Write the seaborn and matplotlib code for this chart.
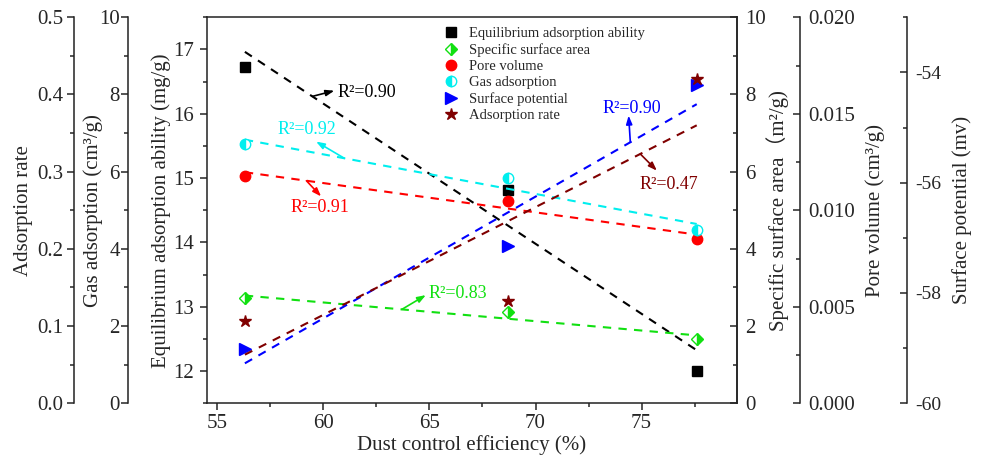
import numpy as np
import matplotlib
matplotlib.use('Agg')
import matplotlib.pyplot as plt
from matplotlib.ticker import MultipleLocator, FormatStrFormatter
import seaborn as sns

sns.set_style('ticks')
plt.rcParams['font.family'] = ['Liberation Serif', 'Noto Sans CJK SC']
plt.rcParams['axes.unicode_minus'] = False  # "-54" with a plain hyphen
plt.rcParams['axes.linewidth'] = 1.1
plt.rcParams['axes.edgecolor'] = '#222222'

# data
efficiency = [56.3, 68.7, 77.6]            # dust control efficiency (%)
equilibrium = [16.73, 14.82, 12.0]         # mg/g
surface_area = [2.72, 2.36, 1.66]          # m2/g
pore_volume = [0.0118, 0.0105, 0.0085]     # cm3/g
gas_adsorption = [6.71, 5.84, 4.48]        # cm3/g
surface_potential = [-59.02, -57.15, -54.22]  # mv
adsorption_rate = [0.106, 0.133, 0.420]

r2_labels = ['0.90', '0.83', '0.91', '0.92', '0.90', '0.47']

fig = plt.figure(figsize=(9.81, 4.61), dpi=100)
ax = fig.add_axes([0.2107, 0.1252, 0.5406, 0.8373])

ax_area = ax.twinx()
ax_pore = ax.twinx()
ax_pot = ax.twinx()
ax_gas = ax.twinx()
ax_rate = ax.twinx()

# extra spines
for a in [ax_area, ax_pore, ax_pot]:
    for s in ['left', 'top', 'bottom']:
        a.spines[s].set_visible(False)
ax_pore.spines['right'].set_position(('axes', 1.1188))
ax_pot.spines['right'].set_position(('axes', 1.3211))
for a, pos in [(ax_gas, -0.1478), (ax_rate, -0.2502)]:
    a.yaxis.tick_left()
    a.yaxis.set_label_position('left')
    a.spines['left'].set_position(('axes', pos))
    for s in ['right', 'top', 'bottom']:
        a.spines[s].set_visible(False)

# name, values, axis, colour, marker, fillstyle, size, arrow anchor x, head offset px, text offset px
series = [
    ('Equilibrium adsorption ability', equilibrium, ax, 'black', 's', 'full', 6.5, 59.48, (22, 5.7), (54.5, 3.7)),
    ('Specific surface area', surface_area, ax_area, '#11e011', 'D', 'right', 6.5, 63.7, (24, 14.3), (55.6, 15.8)),
    ('Pore volume', pore_volume, ax_pore, '#ff0000', 'o', 'full', 7.5, 59.2, (14.7, -15.7), (14, -26.5)),
    ('Gas adsorption', gas_adsorption, ax_gas, '#00eeee', 'o', 'left', 7.5, 60.99, (-28.3, 16.7), (-37, 28.7)),
    ('Surface potential', surface_potential, ax_pot, '#0000ff', '>', 'full', 8, 74.47, (-1.7, 26.7), (1.6, 33.7)),
    ('Adsorption rate', adsorption_rate, ax_rate, '#800000', '*', 'full', 9, 74.94, (16.6, -16.7), (28.3, -30.7)),
]

px = 0.72  # points per pixel at dpi 100
handles = []
for (name, vals, a, c, m, fs, ms, xa, head, txt), r2 in zip(series, r2_labels):
    sns.regplot(x=efficiency, y=vals, ax=a, scatter=False, ci=None, color=c,
                line_kws=dict(ls=(0, (4, 3.5)), lw=1.5))
    sns.lineplot(x=efficiency, y=vals, ax=a, marker=m, linestyle='none', color=c,
                 markersize=ms, fillstyle=fs, markeredgecolor=c, markeredgewidth=1,
                 markerfacecoloralt='white', label=name, legend=False)
    handles.append(a.get_lines()[-1])
    k, b = np.polyfit(efficiency, vals, 1)
    ya = k * xa + b
    a.annotate('', xy=(xa, ya), xytext=(head[0] * px, head[1] * px), textcoords='offset points',
               arrowprops=dict(arrowstyle='<|-,head_length=0.5,head_width=0.18', color=c, lw=1.2,
                               shrinkA=0, shrinkB=0))
    a.annotate('R²=' + r2, xy=(xa, ya), xytext=(txt[0] * px, txt[1] * px),
               textcoords='offset points', ha='center', va='center', color=c, fontsize=13)

ax.set_xlim(54.5, 79.5)
ax.set_ylim(11.5, 17.5)
ax_area.set_ylim(0, 10)
ax_pore.set_ylim(0, 0.02)
ax_pot.set_ylim(-60, -53)
ax_gas.set_ylim(0, 10)
ax_rate.set_ylim(0, 0.5)

ax.xaxis.set_major_locator(MultipleLocator(5))
ax.xaxis.set_minor_locator(MultipleLocator(2.5))
ax.yaxis.set_major_locator(MultipleLocator(1))
ax.yaxis.set_minor_locator(MultipleLocator(0.5))
ax_area.yaxis.set_major_locator(MultipleLocator(2))
ax_area.yaxis.set_minor_locator(MultipleLocator(1))
ax_pore.yaxis.set_major_locator(MultipleLocator(0.005))
ax_pore.yaxis.set_minor_locator(MultipleLocator(0.0025))
ax_pore.yaxis.set_major_formatter(FormatStrFormatter('%.3f'))
ax_pot.yaxis.set_major_locator(MultipleLocator(2))
ax_pot.yaxis.set_minor_locator(MultipleLocator(1))
ax_gas.yaxis.set_major_locator(MultipleLocator(2))
ax_gas.yaxis.set_minor_locator(MultipleLocator(1))
ax_rate.yaxis.set_major_locator(MultipleLocator(0.1))
ax_rate.yaxis.set_minor_locator(MultipleLocator(0.05))
ax_rate.yaxis.set_major_formatter(FormatStrFormatter('%.1f'))

ax.tick_params(axis='both', which='major', direction='out', length=5, width=1.1, labelsize=15, pad=3)
ax.tick_params(axis='both', which='minor', direction='out', length=3, width=1.1)
ax.tick_params(axis='y', which='major', pad=4)
for a, pad in [(ax_gas, 1), (ax_rate, 3)]:
    a.tick_params(axis='y', which='major', direction='out', length=5, width=1.1, labelsize=15, pad=pad)
    a.tick_params(axis='y', which='minor', direction='out', length=3, width=1.1)
for a, size in [(ax_area, 15), (ax_pore, 15), (ax_pot, 14)]:
    a.tick_params(axis='y', which='major', direction='in', length=5, width=1.1, labelsize=size, pad=6)
    a.tick_params(axis='y', which='minor', direction='in', length=3, width=1.1)

ax.set_xlabel('Dust control efficiency (%)', fontsize=15, labelpad=1)
ax.set_ylabel('Equilibrium adsorption ability (mg/g)', fontsize=15)
ax_gas.set_ylabel('Gas adsorption (cm³/g)', fontsize=15)
ax_rate.set_ylabel('Adsorption rate', fontsize=15, labelpad=3)
ax_area.set_ylabel('Specific surface area（m²/g)', fontsize=15, labelpad=0)
ax_pore.set_ylabel('Pore volume (cm³/g)', fontsize=15, labelpad=7)
ax_pot.set_ylabel('Surface potential (mv)', fontsize=15)
ax.yaxis.set_label_coords(-0.0673, 0.5)
ax_gas.yaxis.set_label_coords(-0.1955, 0.5)
ax_pot.yaxis.set_label_coords(1.4054, 0.5)

ax_rate.legend(handles=handles, labels=[s[0] for s in series], loc='upper left',
               bbox_to_anchor=(0.4475, 0.975), frameon=False, fontsize=10.5,
               handlelength=1.0, handletextpad=0.7, labelspacing=0.2, borderpad=0, borderaxespad=0)

fig.savefig('out.png', dpi=100)
